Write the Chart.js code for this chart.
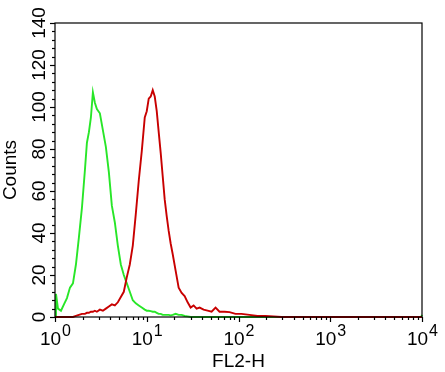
<!DOCTYPE html>
<html>
<head>
<meta charset="utf-8">
<script src="https://cdn.jsdelivr.net/npm/chart.js@4.4.0/dist/chart.umd.min.js"></script>
<style>
  html, body { margin: 0; padding: 0; background: #fff; }
  #wrap { width: 445px; height: 372px; }
</style>
</head>
<body>
<div id="wrap"><canvas id="chart" width="445" height="372"></canvas></div>
<script>
// FL2-H channel positions (log scale, 10^0 .. 10^4)
const fl2 = [
    1.00, 1.025, 1.078, 1.162, 1.252, 1.350, 1.456, 1.569, 1.691, 1.823,
    1.966, 2.119, 2.228, 2.342, 2.462, 2.588, 2.721, 2.861, 3.084, 3.325,
    3.584, 3.864, 4.165, 4.490, 4.840, 5.218, 5.623, 6.063, 6.535, 7.045,
    7.595, 8.187, 8.826, 9.513, 10.0, 10.51, 11.05, 11.62, 12.22, 12.85,
    13.50, 14.20, 14.93, 15.69, 16.50, 17.34, 18.23, 19.17, 20.66, 22.27,
    24.01, 25.88, 27.90, 30.08, 32.42, 34.95, 37.68, 41.65, 46.03, 50.88,
    56.23, 62.15, 70.45, 79.83, 92.78, 107.8, 131.7, 160.9, 196.6, 240.1,
    293.4, 460, 1253, 3411, 9800, 10000
];

// isotype control (green)
const controlCounts = [
    0, 11, 4, 3, 6, 9, 14, 16, 25, 38,
    52, 70, 83, 88, 95, 107, 102, 99, 97, 89,
    81, 69, 53, 45, 34, 25, 20, 16, 12, 8,
    6.5, 5.5, 4.5, 3.5, 3, 3, 2.8, 2.5, 2.5, 2,
    1.5, 1.5, 1, 1, 1, 1, 0.8, 1, 1.5, 1,
    1, 0.5, 0.3, 0, 0, 0, 0, 0, 0, 0,
    0, 0, 0, 0, 0, 0, 0, 0, 0, 0,
    0, 0, 0, 0, 0, 1
];

// stained sample (red)
const sampleCounts = [
    0, 0, 0, 0, 0, 0, 0, 0, 0.5, 1,
    1.5, 1.5, 2, 2, 2.5, 2.5, 3, 2.5, 3.5, 3,
    4, 5, 6, 5.5, 7, 9.5, 12, 19, 25, 34,
    49, 65, 79, 95, 98, 104, 105, 108, 105, 98,
    88, 78, 67, 56, 48, 41, 35, 30, 22, 14,
    11.5, 10, 7, 4.5, 5.5, 4, 4.5, 3.5, 3, 2.5,
    4.5, 2.5, 2.5, 2.3, 1.5, 1.5, 1, 0.5, 0.5, 0.3,
    0, 0, 0, 0, 0, 0
];

const yMajorTicks = [0, 20, 40, 60, 80, 100, 120, 140];
const xDecades = [0, 1, 2, 3, 4];

const FONT = '"Liberation Sans", Arial, sans-serif';

function toPoints(ys) {
    return fl2.map((x, i) => ({ x: x, y: ys[i] }));
}

// axes, box, ticks and labels drawn from the chart's own scales
const axisPlugin = {
    id: 'facsAxes',
    afterDraw(chart) {
        const ctx = chart.ctx;
        const xs = chart.scales.x;
        const ys = chart.scales.y;
        const area = chart.chartArea;
        ctx.save();
        ctx.strokeStyle = '#000';
        ctx.fillStyle = '#000';
        ctx.lineWidth = 1.2;

        // frame
        ctx.strokeRect(area.left, area.top, area.right - area.left, area.bottom - area.top);

        // y ticks: major every 20, minor every 4
        for (let v = 0; v <= 140; v += 4) {
            const py = Math.round(ys.getPixelForValue(v)) + 0.5;
            const len = v % 20 === 0 ? 5 : 3;
            ctx.beginPath();
            ctx.moveTo(area.left, py);
            ctx.lineTo(area.left - len, py);
            ctx.stroke();
        }

        // x ticks: decades plus 2..9
        xDecades.forEach(d => {
            const base = Math.pow(10, d);
            const px = Math.round(xs.getPixelForValue(base)) + 0.5;
            ctx.beginPath();
            ctx.moveTo(px, area.bottom);
            ctx.lineTo(px, area.bottom + 5);
            ctx.stroke();
            if (d < 4) {
                for (let k = 2; k <= 9; k++) {
                    const mx = Math.round(xs.getPixelForValue(k * base)) + 0.5;
                    ctx.beginPath();
                    ctx.moveTo(mx, area.bottom);
                    ctx.lineTo(mx, area.bottom + 3);
                    ctx.stroke();
                }
            }
        });

        // y tick labels (rotated)
        ctx.font = '19px ' + FONT;
        ctx.textAlign = 'center';
        ctx.textBaseline = 'alphabetic';
        yMajorTicks.forEach(v => {
            const py = ys.getPixelForValue(v);
            ctx.save();
            ctx.translate(45, py);
            ctx.rotate(-Math.PI / 2);
            ctx.fillText(String(v), 0, 0);
            ctx.restore();
        });

        // x tick labels 10^n
        xDecades.forEach(d => {
            const px = xs.getPixelForValue(Math.pow(10, d));
            ctx.font = '19px ' + FONT;
            const wBase = ctx.measureText('10').width;
            ctx.font = '16px ' + FONT;
            const wExp = ctx.measureText(String(d)).width;
            const start = px - (wBase + wExp) / 2;
            ctx.textAlign = 'left';
            ctx.font = '19px ' + FONT;
            ctx.fillText('10', start, 345);
            ctx.font = '16px ' + FONT;
            ctx.fillText(String(d), start + wBase + 1, 336);
        });

        // axis titles
        ctx.font = '19px ' + FONT;
        ctx.textAlign = 'center';
        ctx.fillText('FL2-H', (area.left + area.right) / 2, 367);
        ctx.save();
        ctx.translate(16, (area.top + area.bottom) / 2);
        ctx.rotate(-Math.PI / 2);
        ctx.fillText('Counts', 0, 0);
        ctx.restore();

        ctx.restore();
    }
};

new Chart(document.getElementById('chart').getContext('2d'), {
    type: 'line',
    data: {
        datasets: [
            {
                label: 'Sample',
                data: toPoints(sampleCounts),
                borderColor: 'rgb(200, 0, 0)',
                borderWidth: 1.9,
                pointRadius: 0,
                tension: 0,
                clip: 4
            },
            {
                label: 'Control',
                data: toPoints(controlCounts),
                borderColor: 'rgb(40, 230, 40)',
                borderWidth: 1.9,
                pointRadius: 0,
                tension: 0,
                clip: 4
            }
        ]
    },
    options: {
        responsive: false,
        animation: false,
        layout: {
            padding: { left: 55, right: 23, top: 23, bottom: 55 }
        },
        plugins: {
            legend: { display: false },
            tooltip: { enabled: false }
        },
        scales: {
            x: { type: 'logarithmic', min: 1, max: 10000, display: false },
            y: { type: 'linear', min: 0, max: 140, display: false }
        }
    },
    plugins: [axisPlugin]
});
</script>
</body>
</html>
